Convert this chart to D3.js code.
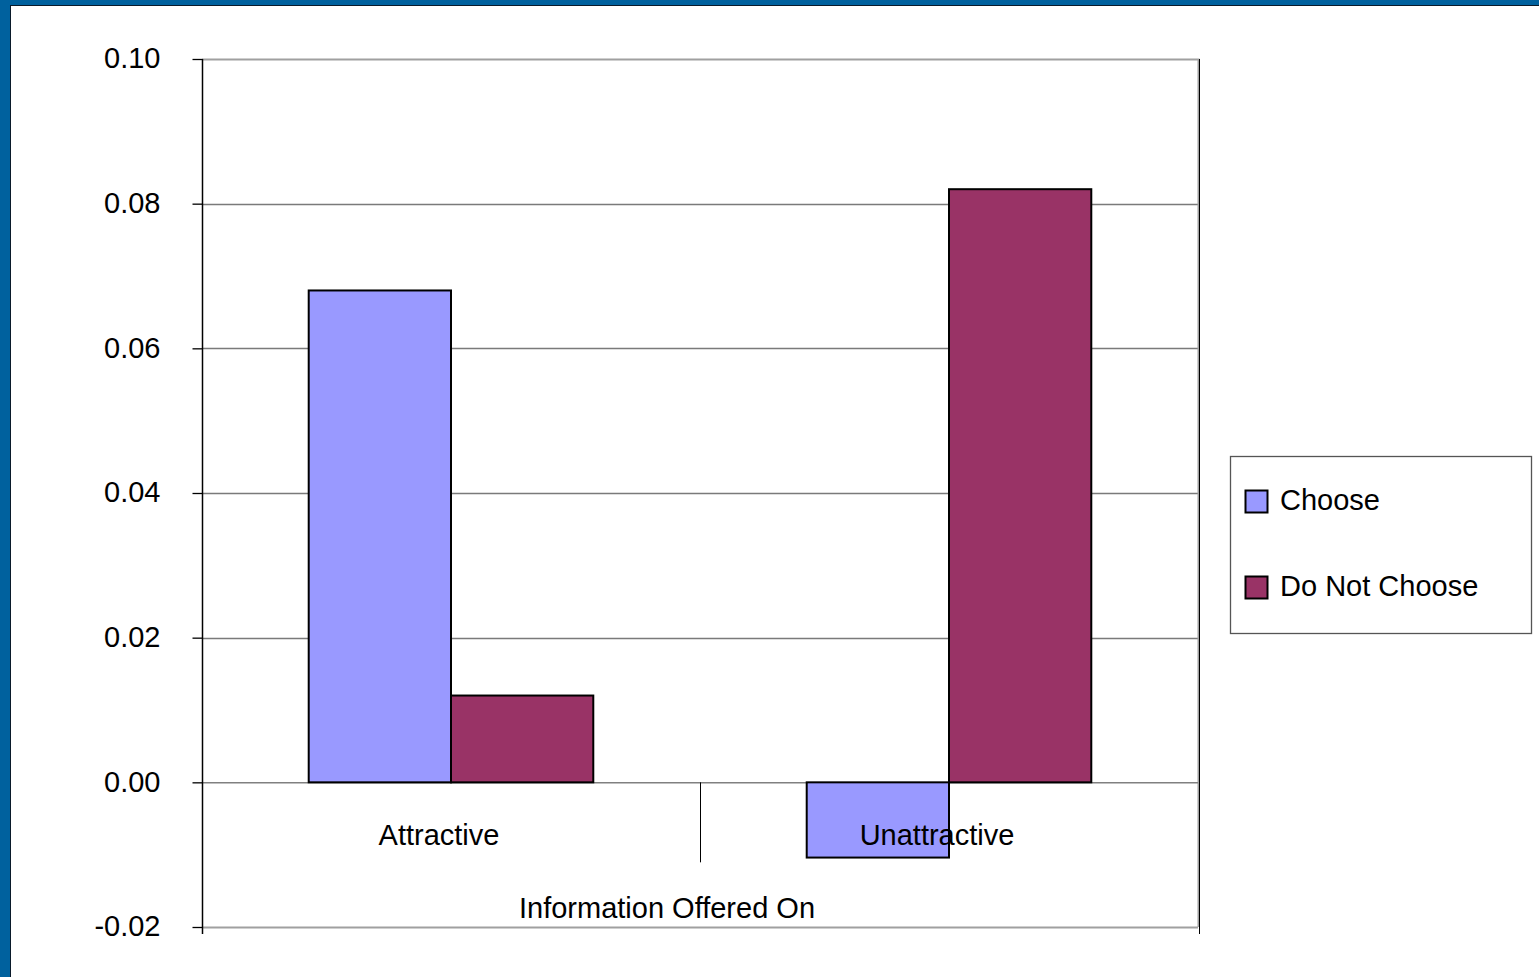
<!DOCTYPE html>
<html>
<head>
<meta charset="utf-8">
<script src="https://cdn.jsdelivr.net/npm/d3@7"></script>
<style>
  html, body { margin: 0; padding: 0; background: #fff; }
  svg { display: block; font-family: "Liberation Sans", Arial, sans-serif; }
</style>
</head>
<body>
<svg id="chart" width="1539" height="977"></svg>
<script>
// Chart data
const categories = ["Attractive", "Unattractive"];
const seriesNames = ["Choose", "Do Not Choose"];
const chooseValues = [0.068, -0.0104];
const doNotChooseValues = [0.012, 0.082];
const yTicks = [-0.02, 0.00, 0.02, 0.04, 0.06, 0.08, 0.10];
const axisTitle = "Information Offered On";
const seriesColors = ["#9999FF", "#993366"];

const svg = d3.select("#chart");
const W = 1539, H = 977;
const FS = 29;

// Slide-style frame: blue strip along the top and left edges
svg.append("rect").attr("x", 0).attr("y", 0).attr("width", W).attr("height", 5).attr("fill", "#00619E");
svg.append("rect").attr("x", 0).attr("y", 0).attr("width", 10).attr("height", H).attr("fill", "#00619E");
svg.append("line").attr("x1", 10).attr("x2", W).attr("y1", 5.5).attr("y2", 5.5).attr("stroke", "#0a1a2a").attr("stroke-width", 1);
svg.append("line").attr("x1", 10.5).attr("x2", 10.5).attr("y1", 5).attr("y2", H).attr("stroke", "#0a1a2a").attr("stroke-width", 1);

const plot = { left: 202, right: 1198, top: 59, bottom: 927 };

const y = d3.scaleLinear().domain([-0.02, 0.10]).range([plot.bottom, plot.top]);
const x0 = d3.scaleBand().domain(categories).range([plot.left, plot.right]).paddingInner(0).paddingOuter(0);
const x1 = d3.scaleBand().domain(seriesNames).range([0, x0.bandwidth()]).paddingInner(0).paddingOuter(0.75);

// Horizontal gridlines
svg.append("g")
  .selectAll("line")
  .data(yTicks.filter(t => t > -0.02 && t < 0.10 && t !== 0))
  .join("line")
  .attr("x1", plot.left).attr("x2", plot.right)
  .attr("y1", d => Math.round(y(d)) + 0.5).attr("y2", d => Math.round(y(d)) + 0.5)
  .attr("stroke", "#7a7a7a").attr("stroke-width", 1.3);

// Plot frame (top, right, bottom)
svg.append("path")
  .attr("d", `M${plot.left},${plot.top + 0.5}H${plot.right + 0.5}V${plot.bottom}M${plot.left},${plot.bottom + 0.5}H${plot.right}`)
  .attr("fill", "none").attr("stroke", "#a0a0a0").attr("stroke-width", 2);
svg.append("line")
  .attr("x1", plot.right + 1.5).attr("x2", plot.right + 1.5)
  .attr("y1", plot.top).attr("y2", plot.bottom + 7)
  .attr("stroke", "#000").attr("stroke-width", 1);

// Zero baseline
svg.append("line")
  .attr("x1", plot.left).attr("x2", plot.right)
  .attr("y1", y(0) + 0.5).attr("y2", y(0) + 0.5)
  .attr("stroke", "#808080").attr("stroke-width", 1.5);

// Bars
const rows = categories.map((c, i) => ({ cat: c, vals: [chooseValues[i], doNotChooseValues[i]] }));
const groups = svg.append("g").selectAll("g")
  .data(rows).join("g")
  .attr("transform", d => `translate(${x0(d.cat)},0)`);
groups.selectAll("rect")
  .data(d => d.vals.map((v, j) => ({ name: seriesNames[j], v, j })))
  .join("rect")
  .attr("x", d => x1(d.name))
  .attr("width", x1.bandwidth())
  .attr("y", d => y(Math.max(0, d.v)))
  .attr("height", d => Math.abs(y(d.v) - y(0)))
  .attr("fill", d => seriesColors[d.j])
  .attr("stroke", "#000").attr("stroke-width", 2);

// Category separators along the baseline
svg.append("g").selectAll("line")
  .data(categories.slice(1))
  .join("line")
  .attr("x1", d => x0(d) + 0.5).attr("x2", d => x0(d) + 0.5)
  .attr("y1", y(0)).attr("y2", y(0) + 80)
  .attr("stroke", "#000").attr("stroke-width", 1);

// Category labels
svg.append("g").selectAll("text")
  .data(categories)
  .join("text")
  .attr("x", d => x0(d) + x0.bandwidth() / 2 - 12)
  .attr("y", y(0) + 63)
  .attr("text-anchor", "middle")
  .attr("font-size", FS)
  .attr("fill", "#000")
  .text(d => d);

// Axis title
svg.append("text")
  .attr("x", 667).attr("y", 918)
  .attr("text-anchor", "middle")
  .attr("font-size", FS)
  .attr("fill", "#000")
  .text(axisTitle);

// Y axis
const fmt = d3.format(".2f");
const yAxis = d3.axisLeft(y).tickValues(yTicks)
  .tickFormat(d => fmt(d).replace("\u2212", "-"))
  .tickSizeOuter(0).tickSize(10).tickPadding(32);
const ya = svg.append("g").attr("transform", `translate(${plot.left + 0.5},0)`).call(yAxis);
ya.select(".domain").attr("d", `M0,${plot.top}V${plot.bottom + 7}`).attr("stroke", "#000").attr("stroke-width", 1.5);
ya.selectAll(".tick line").attr("stroke", "#000").attr("stroke-width", 1.3);
ya.selectAll(".tick text")
  .attr("font-size", FS)
  .attr("font-family", "'Liberation Sans', Arial, sans-serif")
  .attr("fill", "#000")
  .attr("dy", "0.3em");

// Legend
const legend = svg.append("g").attr("transform", "translate(1230,456)");
legend.append("rect")
  .attr("x", 0.5).attr("y", 0.5).attr("width", 301).attr("height", 177)
  .attr("fill", "#fff").attr("stroke", "#555").attr("stroke-width", 1.3);
const items = legend.selectAll("g.item")
  .data(seriesNames).join("g").attr("class", "item")
  .attr("transform", (d, i) => `translate(0,${45 + i * 86})`);
items.append("rect")
  .attr("x", 15.5).attr("y", -10.5).attr("width", 22).attr("height", 22)
  .attr("fill", (d, i) => seriesColors[i])
  .attr("stroke", "#000").attr("stroke-width", 2);
items.append("text")
  .attr("x", 50).attr("y", 9)
  .attr("font-size", FS)
  .attr("fill", "#000")
  .text(d => d);
</script>
</body>
</html>
